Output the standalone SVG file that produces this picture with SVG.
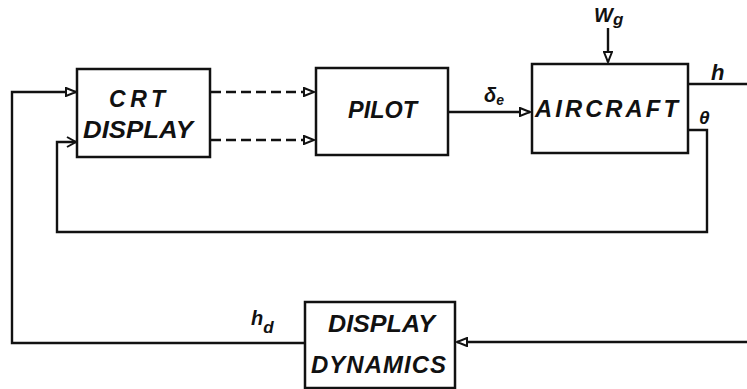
<svg xmlns="http://www.w3.org/2000/svg" width="747" height="389" viewBox="0 0 747 389">
<style>
.box{fill:#fff;stroke:#111;stroke-width:2.5}
.ln{fill:none;stroke:#111;stroke-width:2.4}
.dash{fill:none;stroke:#111;stroke-width:2.4;stroke-dasharray:10 5}
.t{font-family:"Liberation Sans",Arial,sans-serif;font-style:italic;font-weight:bold;font-size:23px;fill:#111}
.s{font-family:"Liberation Sans",Arial,sans-serif;font-style:italic;font-weight:bold;fill:#111}
</style>
<defs>
<marker id="ah" markerWidth="13" markerHeight="10" refX="11" refY="5" orient="auto" markerUnits="userSpaceOnUse">
<path d="M1,1 L11,5 L1,9 Z" fill="#fff" stroke="#111" stroke-width="2"/>
</marker>
<marker id="chev" markerWidth="13" markerHeight="12" refX="11" refY="6" orient="auto" markerUnits="userSpaceOnUse">
<path d="M2,1 L11,6 L2,11" fill="none" stroke="#111" stroke-width="2"/>
</marker>
</defs>
<g id="connectors">
<path class="ln" d="M305,343 L12,343 L12,92 L76,92" marker-end="url(#ah)"/>
<path class="ln" d="M689,130 L707,130 L707,232 L57,232 L57,142 L76,142" marker-end="url(#chev)"/>
<path class="dash" d="M211,92 L314,92" marker-end="url(#ah)"/>
<path class="dash" d="M211,140 L314,140" marker-end="url(#ah)"/>
<path class="ln" d="M449,112 L530,112" marker-end="url(#ah)"/>
<path class="ln" d="M608,28 L608,62" marker-end="url(#ah)"/>
<path class="ln" d="M689,84 L747,84"/>
<path class="ln" d="M747,342 L457,342" marker-end="url(#ah)"/>
</g>
<g id="crt">
<rect class="box" x="77" y="69" width="133" height="88"/>
<text class="t" x="109" y="107" textLength="56" lengthAdjust="spacing">CRT</text>
<text class="t" x="83" y="138" textLength="110" lengthAdjust="spacingAndGlyphs">DISPLAY</text>
</g>
<g id="pilot">
<rect class="box" x="316" y="68" width="132" height="87"/>
<text class="t" x="348" y="118" textLength="69" lengthAdjust="spacingAndGlyphs">PILOT</text>
</g>
<g id="aircraft">
<rect class="box" x="532" y="64" width="156" height="89"/>
<text class="t" x="535" y="117" textLength="146" lengthAdjust="spacingAndGlyphs" letter-spacing="3">AIRCRAFT</text>
</g>
<g id="display-dynamics">
<rect class="box" x="305" y="302" width="150" height="86"/>
<text class="t" x="328" y="332" textLength="107" lengthAdjust="spacingAndGlyphs">DISPLAY</text>
<text class="t" x="311" y="373" textLength="136" lengthAdjust="spacingAndGlyphs" letter-spacing="1">DYNAMICS</text>
</g>
<g id="labels">
<text class="s" x="594" y="22" font-size="20">W<tspan font-size="17" dy="3">g</tspan></text>
<text class="s" x="484" y="102" font-size="20">δ<tspan font-size="14" dy="3">e</tspan></text>
<text class="s" x="711" y="80" font-size="22">h</text>
<text class="s" x="699" y="124" font-size="19">θ</text>
<text class="s" x="251" y="325" font-size="20">h<tspan font-size="17" dy="8">d</tspan></text>
</g>
</svg>
